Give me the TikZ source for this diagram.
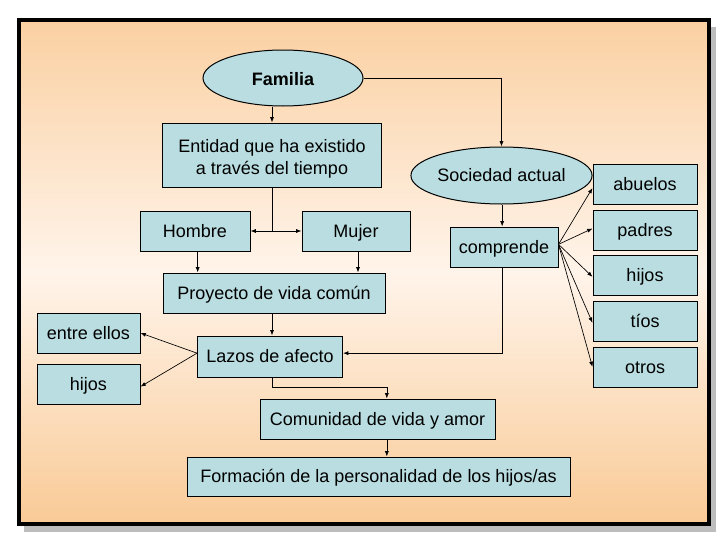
\documentclass[tikz,border=0pt]{standalone}
\usepackage{fontspec}
\setmainfont{Liberation Sans}
\usetikzlibrary{shapes.geometric,arrows.meta,calc}
\definecolor{boxfill}{HTML}{B9DDE0}
\definecolor{bgtop}{HTML}{FAD0A2}
\definecolor{bgmid}{HTML}{FFF4EA}
\definecolor{bgbot}{HTML}{F9CA96}
\definecolor{shadow}{HTML}{BDBDBD}
\tikzset{
  boxbase/.style={draw=black, line width=0.75pt, fill=boxfill, inner sep=0pt,
    minimum height=30pt, align=center, font=\fontsize{13.5}{16}\selectfont},
  box/.style={boxbase, text height=11.5pt, text depth=2pt},
  oval/.style={ellipse, draw=black, line width=0.75pt, fill=boxfill, inner sep=0pt,
    align=center, text height=11pt, text depth=2pt},
  arr/.style={draw=black, line width=0.5pt, -{Latex[length=4pt,width=3pt]}},
  ln/.style={draw=black, line width=0.5pt},
}
\begin{document}
\begin{tikzpicture}[x=0.75pt,y=-0.75pt]
\useasboundingbox (0,0) rectangle (728,546);
% frame
\fill[shadow] (24,27) rectangle (716,532);
\shade[top color=bgtop, bottom color=bgbot, middle color=bgmid] (19,20) rectangle (709,524);
\draw[line width=2.5pt] (19,20) rectangle (709,524);

% nodes
\node[oval, minimum width=120pt, minimum height=42pt, font=\fontsize{13.5}{16}\selectfont\bfseries, text height=11pt, text depth=0.5pt] (fam) at (283,78) {Familia};
\node[boxbase, minimum width=164.25pt, minimum height=48pt] (ent) at (272,155) {};
\node[inner sep=0pt, align=center, font=\fontsize{13.5}{16.5}\selectfont] (enttxt) at ([yshift=-3pt]ent.center) {Entidad que ha existido\\a través del tiempo};
\node[box, minimum width=82.5pt] (hom) at (195,231) {Hombre};
\node[box, minimum width=81pt] (muj) at (356,231) {Mujer};
\node[box, minimum width=166.5pt] (pro) at (274,293) {Proyecto de vida común};
\node[box, minimum width=108.75pt, minimum height=30.75pt] (laz) at (270,356.5) {Lazos de afecto};
\node[box, minimum width=77.25pt] (ent2) at (88.5,333) {entre ellos};
\node[box, minimum width=77.25pt] (hijL) at (88.5,384) {hijos};
\node[box, minimum width=176.25pt] (com) at (377.5,419) {Comunidad de vida y amor};
\node[box, minimum width=287.25pt, minimum height=29.25pt] (for) at (378.5,476.5) {Formación de la personalidad de los hijos/as};
\node[oval, minimum width=120.75pt, minimum height=42.75pt, font=\fontsize{13.5}{16}\selectfont] (soc) at (501.5,175.5) {Sociedad actual};
\node[box, minimum width=81pt] (cmp) at (504,247) {comprende};
\node[box, minimum width=78pt] (abu) at (645,184) {abuelos};
\node[box, minimum width=78pt] (pad) at (645,230.5) {padres};
\node[box, minimum width=78pt] (hijR) at (645,275.5) {hijos};
\node[box, minimum width=78pt] (tio) at (645,321.5) {tíos};
\node[box, minimum width=78pt] (otr) at (645,367) {otros};

% connectors
\draw[arr] (ent.north |- fam.south) -- (ent.north);
\coordinate (j) at (ent.south |- hom.east);
\draw[ln] (ent.south) -- (j);
\draw[arr] (j) -- (hom.east);
\draw[arr] (j) -- (muj.west);
\draw[arr] ([xshift=2pt]hom.south) -- ([xshift=2pt]hom.south |- pro.north);
\draw[arr] ([xshift=1.5pt]muj.south) -- ([xshift=1.5pt]muj.south |- pro.north);
\draw[arr] ([xshift=-1.5pt]pro.south) -- ([xshift=-1.5pt]pro.south |- laz.north);
\coordinate (lw) at ([yshift=2.5pt]laz.west);
\draw[arr] (lw) -- (ent2.east);
\draw[arr] (lw) -- ([yshift=-2pt]hijL.east);
\draw[arr] ([xshift=1.5pt]laz.south) -- ++(0,10) -| ([xshift=7pt]com.north);
\draw[arr] ([xshift=7pt]com.south) -- ([xshift=7pt]com.south |- for.north);
\draw[arr] (fam.east) -| (soc.north);
\draw[arr] ([xshift=0.5pt]soc.south) -- ([xshift=0.5pt]soc.south |- cmp.north);
\draw[arr] ([xshift=-1.5pt]cmp.south) |- ([yshift=2.5pt]laz.east);
\coordinate (ce) at ([yshift=2pt]cmp.east);
\draw[arr] (ce) -- ([yshift=-3pt]abu.west);
\draw[arr] (ce) -- ([yshift=1.5pt]pad.west);
\draw[arr] (ce) -- ([yshift=-1pt]hijR.west);
\draw[arr] (ce) -- ([yshift=-1pt]tio.west);
\draw[arr] (ce) -- (otr.west);
\end{tikzpicture}
\end{document}
